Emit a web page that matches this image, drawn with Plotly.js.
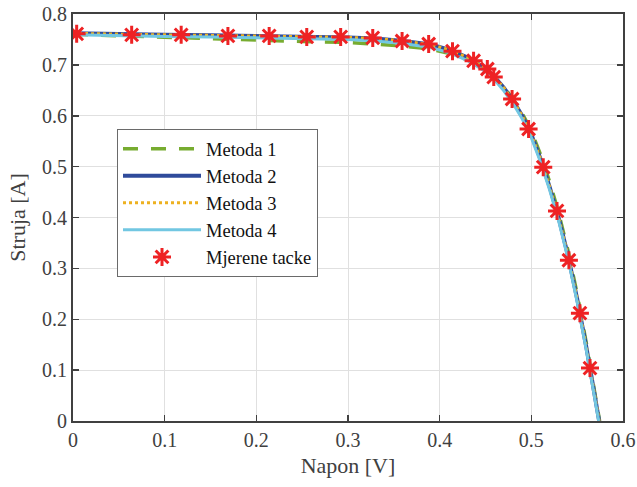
<!DOCTYPE html>
<html>
<head>
<meta charset="utf-8">
<script src="https://cdn.plot.ly/plotly-3.0.1.min.js"></script>
<style>html,body{margin:0;padding:0;background:#fff;}#chart{width:637px;height:487px;}</style>
</head>
<body>
<div id="chart"></div>
<script>
// Curve voltages [V]
const V1 = [0, 0.05, 0.1, 0.15, 0.2, 0.25, 0.3, 0.33, 0.36, 0.39, 0.41, 0.43, 0.45, 0.46, 0.47, 0.48, 0.49, 0.50, 0.51, 0.52, 0.53, 0.54, 0.55, 0.56, 0.57, 0.5745];
const I1 = [0.760, 0.757, 0.754, 0.752, 0.749, 0.746, 0.744, 0.741, 0.737, 0.731, 0.723, 0.710, 0.690, 0.675, 0.656, 0.633, 0.605, 0.570, 0.524, 0.470, 0.408, 0.335, 0.250, 0.153, 0.048, 0];

const V2 = [0, 0.05, 0.1, 0.15, 0.2, 0.25, 0.3, 0.33, 0.36, 0.39, 0.41, 0.43, 0.45, 0.46, 0.47, 0.48, 0.49, 0.50, 0.51, 0.52, 0.53, 0.54, 0.55, 0.56, 0.57, 0.574];
const I2 = [0.762, 0.760, 0.759, 0.758, 0.757, 0.756, 0.754, 0.752, 0.747, 0.740, 0.730, 0.715, 0.693, 0.676, 0.655, 0.630, 0.600, 0.563, 0.515, 0.460, 0.398, 0.325, 0.240, 0.145, 0.043, 0];

const V3 = [0, 0.05, 0.1, 0.15, 0.2, 0.25, 0.3, 0.33, 0.36, 0.39, 0.41, 0.43, 0.45, 0.46, 0.47, 0.48, 0.49, 0.50, 0.51, 0.52, 0.53, 0.54, 0.55, 0.56, 0.57, 0.574];
const I3 = [0.762, 0.760, 0.759, 0.758, 0.757, 0.756, 0.754, 0.752, 0.747, 0.740, 0.730, 0.715, 0.693, 0.676, 0.655, 0.630, 0.600, 0.563, 0.515, 0.460, 0.398, 0.325, 0.240, 0.145, 0.043, 0];

const V4 = [0, 0.05, 0.1, 0.15, 0.2, 0.25, 0.3, 0.33, 0.36, 0.39, 0.41, 0.43, 0.45, 0.46, 0.47, 0.48, 0.49, 0.50, 0.51, 0.52, 0.53, 0.54, 0.55, 0.56, 0.57, 0.5735];
const I4 = [0.759, 0.757, 0.756, 0.755, 0.753, 0.752, 0.750, 0.747, 0.742, 0.734, 0.724, 0.709, 0.687, 0.670, 0.649, 0.624, 0.594, 0.557, 0.509, 0.454, 0.392, 0.319, 0.234, 0.139, 0.037, 0];

// Measured points
const Vm = [0.004, 0.064, 0.118, 0.169, 0.214, 0.255, 0.292, 0.327, 0.359, 0.388, 0.414, 0.437, 0.452, 0.459, 0.479, 0.497, 0.513, 0.528, 0.541, 0.553, 0.564];
const Im = [0.761, 0.759, 0.759, 0.757, 0.757, 0.755, 0.755, 0.753, 0.747, 0.741, 0.727, 0.708, 0.692, 0.676, 0.633, 0.574, 0.499, 0.413, 0.316, 0.212, 0.104];

const names = ['Metoda 1', 'Metoda 2', 'Metoda 3', 'Metoda 4', 'Mjerene tacke'];
const xTicks = [0, 0.1, 0.2, 0.3, 0.4, 0.5, 0.6];
const yTicks = [0, 0.1, 0.2, 0.3, 0.4, 0.5, 0.6, 0.7, 0.8];

const traces = [
  {x: V1, y: I1, name: names[0], mode: 'lines', line: {color: '#77ac30', width: 3.5, dash: '15px,13px'}},
  {x: V2, y: I2, name: names[1], mode: 'lines', line: {color: '#2f4b9b', width: 4}},
  {x: V3, y: I3, name: names[2], mode: 'lines', line: {color: '#edb120', width: 3, dash: 'dot'}},
  {x: V4, y: I4, name: names[3], mode: 'lines', line: {color: '#72c7e2', width: 3}},
  {x: Vm, y: Im, name: names[4], mode: 'markers', marker: {symbol: 'asterisk-open', size: 15, color: '#ee2224', line: {color: '#ee2224', width: 3}}}
];

const axisCommon = {
  showline: true, linecolor: '#404040', linewidth: 2, mirror: 'ticks',
  ticks: 'inside', ticklen: 6, tickwidth: 1.5, tickcolor: '#404040',
  showgrid: true, gridcolor: '#e0e0e0', gridwidth: 1, zeroline: false,
  tickfont: {family: 'Liberation Serif, Times New Roman, serif', size: 20, color: '#404040'}
};

const layout = {
  width: 637, height: 487,
  margin: {l: 73, r: 14, t: 14, b: 66},
  paper_bgcolor: '#ffffff', plot_bgcolor: '#ffffff',
  showlegend: true,
  xaxis: Object.assign({}, axisCommon, {
    range: [0, 0.6], tickvals: xTicks, ticktext: xTicks.map(String),
    title: {text: 'Napon [V]', font: {family: 'Liberation Serif, Times New Roman, serif', size: 22, color: '#404040'}, standoff: 8}
  }),
  yaxis: Object.assign({}, axisCommon, {
    range: [0, 0.8], tickvals: yTicks, ticktext: yTicks.map(String),
    title: {text: 'Struja [A]', font: {family: 'Liberation Serif, Times New Roman, serif', size: 22, color: '#404040'}, standoff: 10}
  }),
  legend: {
    x: 0.08, y: 0.717, xanchor: 'left', yanchor: 'top',
    bgcolor: '#ffffff', bordercolor: '#6a6a6a', borderwidth: 1,
    itemwidth: 78, tracegroupgap: 0,
    font: {family: 'Liberation Serif, Times New Roman, serif', size: 18.5, color: '#111111'}
  }
};

Plotly.newPlot('chart', traces, layout, {staticPlot: true, displayModeBar: false});
</script>
</body>
</html>
